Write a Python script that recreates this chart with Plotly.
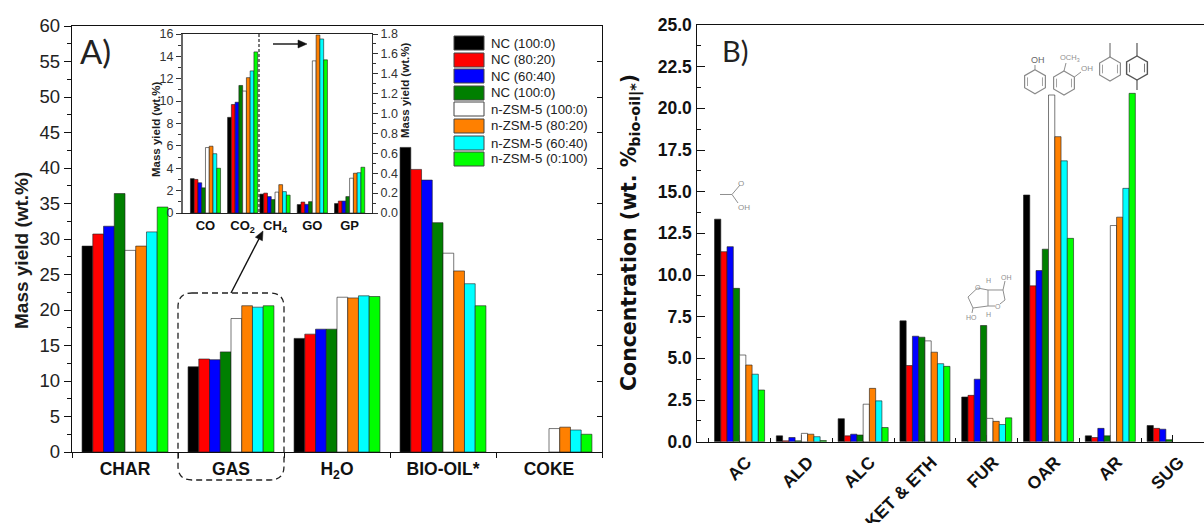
import math
import plotly.graph_objects as go

# ---------- data ----------
series_names = ["NC (100:0)", "NC (80:20)", "NC (60:40)", "NC (100:0)",
                "n-ZSM-5 (100:0)", "n-ZSM-5 (80:20)", "n-ZSM-5 (60:40)", "n-ZSM-5 (0:100)"]
series_colors = ["#000000", "#ff0000", "#0000ff", "#007f00",
                 "#ffffff", "#ff8000", "#00ffff", "#00ff00"]

a_categories = ["CHAR", "GAS", "H<sub>2</sub>O", "BIO-OIL*", "COKE"]
a_char = [29.0, 30.7, 31.8, 36.4, 28.4, 29.0, 31.0, 34.5]
a_gas = [12.0, 13.1, 13.0, 14.1, 18.8, 20.6, 20.4, 20.6]
a_water = [16.0, 16.6, 17.3, 17.3, 21.8, 21.7, 22.0, 21.9]
a_biooil = [42.9, 39.8, 38.3, 32.3, 28.0, 25.5, 23.7, 20.6]
a_coke = [None, None, None, None, 3.3, 3.5, 3.1, 2.5]
a_rows = [a_char, a_gas, a_water, a_biooil, a_coke]

inset_left_categories = ["CO", "CO<sub>2</sub>"]
inset_co = [3.07, 3.0, 2.7, 2.25, 5.85, 5.97, 5.3, 4.0]
inset_co2 = [8.55, 9.7, 9.9, 11.4, 10.9, 12.1, 12.7, 14.4]
inset_left_rows = [inset_co, inset_co2]

inset_right_categories = ["CH<sub>4</sub>", "GO", "GP"]
inset_ch4 = [0.19, 0.2, 0.165, 0.135, 0.21, 0.285, 0.215, 0.18]
inset_go = [0.085, 0.11, 0.087, 0.114, 1.53, 1.79, 1.75, 1.54]
inset_gp = [0.095, 0.12, 0.12, 0.165, 0.35, 0.40, 0.405, 0.46]
inset_right_rows = [inset_ch4, inset_go, inset_gp]

b_categories = ["AC", "ALD", "ALC", "KET & ETH", "FUR", "OAR", "AR", "SUG"]
b_ac = [13.35, 11.4, 11.7, 9.2, 5.2, 4.6, 4.05, 3.1]
b_ald = [0.35, 0.05, 0.25, 0.05, 0.5, 0.45, 0.3, 0.07]
b_alc = [1.38, 0.35, 0.45, 0.4, 2.25, 3.2, 2.45, 0.85]
b_ket = [7.25, 4.57, 6.33, 6.27, 6.05, 5.37, 4.68, 4.52]
b_fur = [2.68, 2.78, 3.75, 6.97, 1.4, 1.22, 1.03, 1.43]
b_oar = [14.8, 9.35, 10.27, 11.55, 20.8, 18.3, 16.85, 12.2]
b_ar = [0.35, 0.25, 0.8, 0.35, 12.97, 13.47, 15.2, 20.9]
b_sug = [0.97, 0.8, 0.75, 0.12, None, None, None, None]
b_rows = [b_ac, b_ald, b_alc, b_ket, b_fur, b_oar, b_ar, b_sug]

# ---------- helpers ----------
W, H = 1204, 523
fx = lambda p: p / W
fy = lambda p: 1 - p / H
SANS = "Liberation Sans"
INK = "#1c1c1c"
EDGE = "rgba(30,30,30,0.6)"
fig = go.Figure()


def add_bars(cats, rows, xa, ya):
    for i, (name, col) in enumerate(zip(series_names, series_colors)):
        fig.add_trace(go.Bar(x=cats, y=[r[i] for r in rows], name=name, xaxis=xa, yaxis=ya,
                             marker=dict(color=col, line=dict(color=EDGE, width=1)),
                             showlegend=False))


add_bars(a_categories, a_rows, "x", "y")
add_bars(inset_left_categories, inset_left_rows, "x3", "y3")
add_bars(inset_right_categories, inset_right_rows, "x4", "y4")
add_bars(list(range(len(b_categories))), b_rows, "x2", "y2")

# empty carriers so the two overlay axes are drawn
fig.add_trace(go.Scatter(x=[0], y=[0], xaxis="x", yaxis="y5", mode="markers",
                         marker=dict(opacity=0), hoverinfo="skip", showlegend=False))
fig.add_trace(go.Scatter(x=[0], y=[0], xaxis="x7", yaxis="y2", mode="markers",
                         marker=dict(opacity=0), hoverinfo="skip", showlegend=False))

shapes, annos = [], []


def text(px, py, s, size=12, color=INK, bold=False, family=SANS, angle=0, xanchor="center"):
    annos.append(dict(x=fx(px), y=fy(py), xref="paper", yref="paper", text=f"<b>{s}</b>" if bold else s,
                      showarrow=False, textangle=angle, xanchor=xanchor, yanchor="middle",
                      font=dict(size=size, color=color, family=family)))


def poly(pts, color="#8a8a8a", width=1, close=False, dash=None, fill=None):
    d = "M " + " L ".join(f"{fx(x):.5f},{fy(y):.5f}" for x, y in pts) + (" Z" if close else "")
    s = dict(type="path", path=d, xref="paper", yref="paper",
             line=dict(color=color, width=width, dash=dash or "solid"))
    if fill:
        s["fillcolor"] = fill
    shapes.append(s)


def hexagon(cx, cy, r, color="#8a8a8a", width=1.2):
    k = 0.866 * r
    poly([(cx, cy - r), (cx + k, cy - r / 2), (cx + k, cy + r / 2), (cx, cy + r),
          (cx - k, cy + r / 2), (cx - k, cy - r / 2)], color, width, close=True)
    m = 0.72
    poly([(cx + k * m, cy - r / 2 * m), (cx + k * m, cy + r / 2 * m)], color, 0.8)
    poly([(cx - k * m, cy - r / 2 * m), (cx - k * m, cy + r / 2 * m)], color, 0.8)


def arrow(x0, y0, x1, y1, head=9, half=4):
    a = math.atan2(y1 - y0, x1 - x0)
    bx, by = x1 - head * math.cos(a), y1 - head * math.sin(a)
    poly([(x0, y0), (bx, by)], "#111", 1.4)
    nx, ny = -math.sin(a) * half, math.cos(a) * half
    poly([(x1, y1), (bx + nx, by + ny), (bx - nx, by - ny)], "#111", 0.5, close=True, fill="#111")


# ---------- legend ----------
leg_y = [43, 60, 76, 93, 109, 126, 143, 159]
for name, col, y in zip(series_names, series_colors, leg_y):
    shapes.append(dict(type="rect", xref="paper", yref="paper", x0=fx(454), x1=fx(484),
                       y0=fy(y - 7), y1=fy(y + 7), fillcolor=col, line=dict(color="#444", width=1)))
    text(488.5, y, name, size=13.2, xanchor="left", color="#222")

# ---------- annotations ----------
text(22, 251, "Mass yield (wt.%)", size=19, bold=True, angle=-90)
text(156, 130, "Mass yield (wt.%)", size=11.5, bold=True, angle=-90)
text(405, 91, "Mass yield (wt.%)", size=11.5, bold=True, angle=-90)
text(630, 233, "Concentration (wt. %<sub>bio-oil|*</sub>)", size=20.5, bold=True,
     family="DejaVu Sans", angle=-90, color="#111")
text(95, 51, "A)", size=33, family="Lato", color="#222")
text(735, 50, "B)", size=29, family="Lato", color="#222")

arrow(231, 293, 263, 231)
arrow(273, 44, 307, 44)

# dashed rounded box around GAS
L, R, T, B, r = 178, 284, 293, 480, 14
d = (f"M {fx(L+r)},{fy(T)} L {fx(R-r)},{fy(T)} Q {fx(R)},{fy(T)} {fx(R)},{fy(T+r)} "
     f"L {fx(R)},{fy(B-r)} Q {fx(R)},{fy(B)} {fx(R-r)},{fy(B)} L {fx(L+r)},{fy(B)} "
     f"Q {fx(L)},{fy(B)} {fx(L)},{fy(B-r)} L {fx(L)},{fy(T+r)} Q {fx(L)},{fy(T)} {fx(L+r)},{fy(T)} Z")
shapes.append(dict(type="path", path=d, xref="paper", yref="paper",
                   line=dict(color="#222", width=1.3, dash="6px,4px")))
# dashed divider inside inset
poly([(259, 34), (259, 213)], color="#222", width=1.2, dash="3px,2px")

# ---------- molecule sketches ----------
MG = "#8f8f8f"
# acetic acid
poly([(720, 194.5), (732, 194.5), (740, 185)], MG)
poly([(732, 194.5), (738, 203)], MG)
text(741, 183, "O", size=8, color=MG)
text(744, 207, "OH", size=8, color=MG)
# phenol
hexagon(1035, 81.7, 12)
poly([(1035, 69.7), (1035, 65)], MG)
text(1038, 60, "OH", size=9, color="#666")
# guaiacol
hexagon(1064, 83, 12)
poly([(1064, 71), (1066, 63)], MG)
poly([(1074.4, 77), (1081, 72)], MG)
text(1070, 58, "OCH<sub>3</sub>", size=7.5, color=MG)
text(1087, 69, "OH", size=8, color=MG)
# toluene
hexagon(1110, 69, 12)
poly([(1110, 43), (1110, 57)], "#777", 1.2)
# p-xylene
hexagon(1137, 68, 12, color="#555", width=1.4)
poly([(1137, 43), (1137, 56)], "#555", 1.2)
poly([(1137, 80), (1137, 90)], "#555", 1.2)
# isosorbide
poly([(977.5, 288), (968, 297), (973, 308), (988, 306), (988, 290), (977.5, 288)], MG)
poly([(988, 290), (1003, 290), (1005, 300), (1000, 304)], MG)
poly([(988, 306), (995, 306)], MG)
poly([(1003, 290), (1005, 281)], MG)
poly([(973, 308), (972, 313)], MG)
text(977.5, 287, "O", size=7, color=MG)
text(998, 306, "O", size=7, color=MG)
text(971, 317, "HO", size=7, color=MG)
text(1006, 277, "OH", size=7, color=MG)
text(988, 280, "H", size=7, color=MG)
text(988, 314, "H", size=7, color=MG)

# ---------- axes ----------
def dom_x(a, b):
    return [fx(a), fx(b)]


def dom_y(top, bottom):
    return [fy(bottom), fy(top)]


main_tick = dict(family=SANS, size=18.5, color="#222")
layout = dict(
    template=None,
    width=W, height=H, margin=dict(l=0, r=0, t=0, b=0, pad=0), autosize=False,
    paper_bgcolor="white", plot_bgcolor="rgba(0,0,0,0)",
    barmode="group", bargap=0.19, bargroupgap=0, showlegend=False,
    shapes=shapes, annotations=annos,
    # panel A
    xaxis=dict(domain=dom_x(72, 602), anchor="y", type="category", categoryorder="array", automargin=False,
               categoryarray=a_categories, range=[-0.5, 4.5], tickson="boundaries", ticks="outside",
               ticklen=5, tickcolor="#111", linecolor="#111", linewidth=1.4, mirror=True, showgrid=False,
               tickfont=dict(family=SANS, size=17.5, color="#111", weight="bold"), ticklabelstandoff=1),
    yaxis=dict(domain=dom_y(26, 452), anchor="x", range=[0, 60], dtick=5, tick0=0, ticks="outside", ticklen=7,
               automargin=False, tickcolor="#111", linecolor="#111", linewidth=1.4, showgrid=False, zeroline=False,
               tickfont=main_tick, minor=dict(ticks="outside", ticklen=4, dtick=2.5, tick0=0, tickcolor="#111")),
    # right side of panel A
    yaxis5=dict(domain=dom_y(26, 452), anchor="x", overlaying="y", side="right", range=[0, 60], dtick=5, ticks="inside",
                automargin=False, ticklen=5, tickcolor="#111", linecolor="#111", linewidth=1.2, showline=True,
                showticklabels=False, showgrid=False, zeroline=False),
    # panel B
    xaxis2=dict(domain=dom_x(696.5, 1204), anchor="y2", range=[-0.697, 7.516], tickmode="array", automargin=False,
                tickvals=list(range(len(b_categories))), ticks="inside", ticklen=7, tickcolor="#111",
                showticklabels=False, minor=dict(ticks="inside", ticklen=4, tick0=-0.5, dtick=1, tickcolor="#111"),
                linecolor="#111", linewidth=1.4, mirror=True, showgrid=False, zeroline=False, layer="below traces"),
    yaxis2=dict(domain=dom_y(25, 441.7), anchor="x2", range=[0, 25], dtick=2.5, tick0=0, ticks="inside", ticklen=8,
                automargin=False, tickformat=".1f", tickcolor="#111", linecolor="#111", linewidth=1.3,
                showgrid=False, zeroline=False,
                tickfont=dict(family=SANS, size=17.5, color="#111", weight="bold"),
                minor=dict(ticks="inside", ticklen=4, dtick=1.25, tick0=0, tickcolor="#111")),
    xaxis7=dict(domain=dom_x(696.5, 1204), anchor="y2", overlaying="x2", range=[-0.697, 7.516], tickmode="array",
                automargin=False, tickvals=[i + 0.11 for i in range(len(b_categories))], ticktext=b_categories, ticks="",
                tickangle=-45, showline=False, showgrid=False, zeroline=False, ticklabelstandoff=6,
                tickfont=dict(family=SANS, size=17.5, color="#111", weight="bold")),
    # inset
    xaxis3=dict(domain=dom_x(183, 259), anchor="y3", type="category", range=[-0.605, 1.44], ticks="", automargin=False,
                linecolor="#222", linewidth=1.4, mirror=True, showgrid=False,
                tickfont=dict(family=SANS, size=13, color="#111", weight="bold")),
    yaxis3=dict(domain=dom_y(34, 213), anchor="x3", range=[0, 16], dtick=2, tick0=0, ticks="outside", ticklen=5,
                automargin=False, tickcolor="#333", linecolor="#666", linewidth=2, showgrid=False, zeroline=False,
                tickfont=dict(family=SANS, size=12.5, color="#333"),
                minor=dict(ticks="outside", ticklen=3, dtick=1, tick0=0, tickcolor="#333")),
    xaxis4=dict(domain=dom_x(259, 372), anchor="y4", type="category", range=[-0.43, 2.6], ticks="", automargin=False,
                linecolor="#222", linewidth=1.4, mirror=True, showgrid=False,
                tickfont=dict(family=SANS, size=13, color="#111", weight="bold")),
    yaxis4=dict(domain=dom_y(34, 213), anchor="x4", side="right", range=[0, 1.8], dtick=0.2, tick0=0, ticks="outside", ticklen=5,
                automargin=False, tickformat=".1f", tickcolor="#333", linecolor="#333", linewidth=1.2, showline=True,
                showgrid=False, zeroline=False, tickfont=dict(family=SANS, size=12.5, color="#333"),
                minor=dict(ticks="outside", ticklen=3, dtick=0.1, tick0=0, tickcolor="#333")),
)
fig.update_layout(**layout)
fig.write_html("out.html", config={"displayModeBar": False},
               post_script="document.body.style.margin='0';document.body.style.overflow='hidden';")
